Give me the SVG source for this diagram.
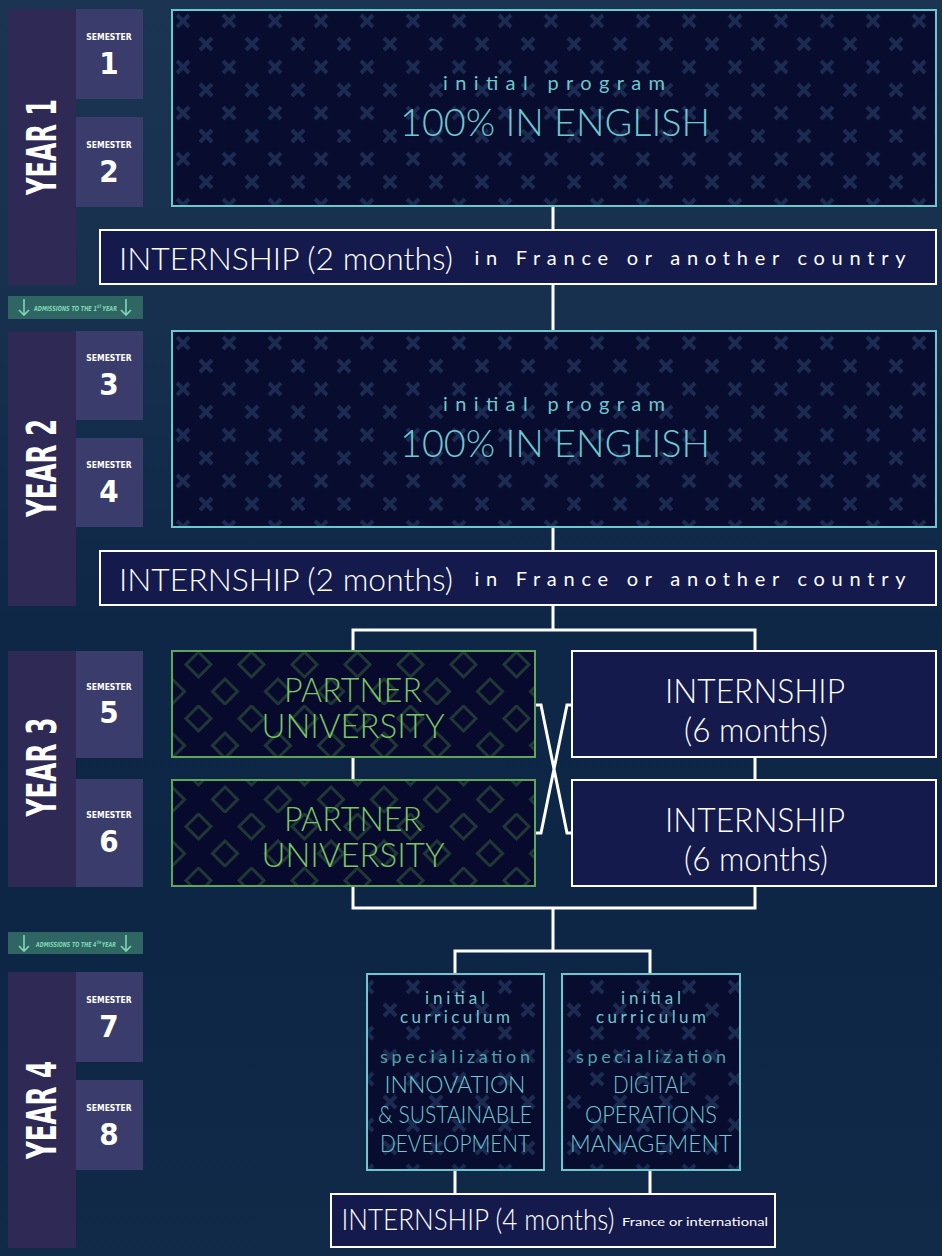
<svg xmlns="http://www.w3.org/2000/svg" width="942" height="1256" viewBox="0 0 942 1256">
<defs>
<linearGradient id="bg" x1="0" y1="0" x2="0" y2="1">
<stop offset="0" stop-color="#1a3451"/>
<stop offset="0.25" stop-color="#17304e"/>
<stop offset="0.5" stop-color="#0e2747"/>
<stop offset="0.75" stop-color="#0d2646"/>
<stop offset="1" stop-color="#112a48"/>
</linearGradient>
<pattern id="xp" x="172" y="10" width="46" height="46" patternUnits="userSpaceOnUse">
<rect width="46" height="46" fill="#080c2e"/>
<path d="M5,5 L17,17 M17,5 L5,17 M28,28 L40,40 M40,28 L28,40" stroke="#1b2b52" stroke-width="4"/>
</pattern>
<pattern id="dp" x="172" y="651" width="53" height="54" patternUnits="userSpaceOnUse">
<rect width="53" height="54" fill="#070a2c"/>
<path d="M26.5,1 L39,13.5 L26.5,26 L14,13.5 Z M0,28 L12.5,40.5 L0,53 L-12.5,40.5 Z M53,28 L65.5,40.5 L53,53 L40.5,40.5 Z" fill="none" stroke="#1f3835" stroke-width="3"/>
</pattern>
<style>
.yr{fill:#2e2a55}
.sem{fill:#3a3d6b}
.yt{font-family:"DejaVu Sans Condensed","DejaVu Sans",sans-serif;font-weight:bold;fill:#ffffff;font-size:40px;text-anchor:middle}
.sl{font-family:"DejaVu Sans Condensed","DejaVu Sans",sans-serif;font-weight:bold;fill:#ffffff;font-size:8.5px;text-anchor:middle}
.sn{font-family:"DejaVu Sans Condensed","DejaVu Sans",sans-serif;font-weight:bold;fill:#ffffff;font-size:31px;text-anchor:middle}
.adm{fill:#2f6664}
.at{font-family:"DejaVu Sans Condensed","DejaVu Sans",sans-serif;font-style:italic;font-weight:bold;fill:#7fd6b5;font-size:7px}
.arr{stroke:#7fd6b5;stroke-width:1.6;fill:none}
.big{fill:url(#xp);stroke:#6cc8cf;stroke-width:2}
.int{fill:#151a4c;stroke:#ffffff;stroke-width:2}
.par{fill:url(#dp);stroke:#5fa65a;stroke-width:2}
.f{font-family:Lato,"Liberation Sans",sans-serif;font-weight:300;text-anchor:middle}
.r{font-weight:400}
.teal{fill:#6fc7cf}
.dteal{fill:#4fa1a7}
.wh{fill:#ffffff}
.grn{fill:#7cc464}
.con{stroke:#ffffff;stroke-width:3;fill:none}
</style>
</defs>
<rect width="942" height="1256" fill="url(#bg)"/>

<g id="connectors">
<path class="con" d="M553,206 V230 M553,284 V331 M553,527 V551 M553,605 V630 M353,651 V630 H755 V651 M353,757 V780 M755,757 V780 M353,886 V908 H755 V886 M553,908 V951 M455,973 V951 H650 V973 M455,1170 V1194 M650,1170 V1194"/>
<path class="con" stroke-width="2.5" d="M535,705 H541 L567,833 H573 M535,833 H541 L567,705 H573"/>
</g>

<g id="year1">
<rect class="yr" x="8" y="9" width="68" height="276"/>
<text class="yt" transform="translate(56,147) rotate(-90)" textLength="96" lengthAdjust="spacingAndGlyphs">YEAR 1</text>
</g>
<g id="sem1"><rect class="sem" x="76" y="9" width="67" height="90"/><text class="sl" x="109" y="40">SEMESTER</text><text class="sn" x="109" y="74">1</text></g>
<g id="sem2"><rect class="sem" x="76" y="117" width="67" height="90"/><text class="sl" x="109" y="148">SEMESTER</text><text class="sn" x="109" y="182">2</text></g>

<g id="adm1">
<rect class="adm" x="8" y="296" width="135" height="23"/>
<path class="arr" d="M24,299 V315 M19,310 L24,315 L29,310 M126,299 V315 M121,310 L126,315 L131,310"/>
<text class="at" x="34" y="311" textLength="83" lengthAdjust="spacingAndGlyphs">ADMISSIONS TO THE 1<tspan font-size="4.5" dy="-3">ST</tspan><tspan dy="3" dx="1">YEAR</tspan></text>
</g>

<g id="year2">
<rect class="yr" x="8" y="331" width="68" height="275"/>
<text class="yt" transform="translate(56,468) rotate(-90)" textLength="98" lengthAdjust="spacingAndGlyphs">YEAR 2</text>
</g>
<g id="sem3"><rect class="sem" x="76" y="331" width="67" height="89"/><text class="sl" x="109" y="361">SEMESTER</text><text class="sn" x="109" y="395">3</text></g>
<g id="sem4"><rect class="sem" x="76" y="438" width="67" height="89"/><text class="sl" x="109" y="468">SEMESTER</text><text class="sn" x="109" y="502">4</text></g>

<g id="year3">
<rect class="yr" x="8" y="651" width="68" height="236"/>
<text class="yt" transform="translate(56,767) rotate(-90)" textLength="99" lengthAdjust="spacingAndGlyphs">YEAR 3</text>
</g>
<g id="sem5"><rect class="sem" x="76" y="651" width="67" height="107"/><text class="sl" x="109" y="690">SEMESTER</text><text class="sn" x="109" y="723">5</text></g>
<g id="sem6"><rect class="sem" x="76" y="779" width="67" height="108"/><text class="sl" x="109" y="818">SEMESTER</text><text class="sn" x="109" y="852">6</text></g>

<g id="adm2">
<rect class="adm" x="8" y="932" width="135" height="22"/>
<path class="arr" d="M24,935 V951 M19,946 L24,951 L29,946 M126,935 V951 M121,946 L126,951 L131,946"/>
<text class="at" x="36" y="946.5" textLength="80" lengthAdjust="spacingAndGlyphs">ADMISSIONS TO THE 4<tspan font-size="4.5" dy="-3">TH</tspan><tspan dy="3" dx="1">YEAR</tspan></text>
</g>

<g id="year4">
<rect class="yr" x="8" y="972" width="68" height="276"/>
<text class="yt" transform="translate(56,1110) rotate(-90)" textLength="98" lengthAdjust="spacingAndGlyphs">YEAR 4</text>
</g>
<g id="sem7"><rect class="sem" x="76" y="972" width="67" height="90"/><text class="sl" x="109" y="1003">SEMESTER</text><text class="sn" x="109" y="1037">7</text></g>
<g id="sem8"><rect class="sem" x="76" y="1080" width="67" height="90"/><text class="sl" x="109" y="1111">SEMESTER</text><text class="sn" x="109" y="1145">8</text></g>

<g id="prog1">
<rect class="big" x="172" y="10" width="764" height="196"/>
<text class="f r teal" x="554" y="90" font-size="20" textLength="222" lengthAdjust="spacing">initial program</text>
<text class="f teal" x="555" y="136" font-size="37" textLength="310" lengthAdjust="spacingAndGlyphs">100% IN ENGLISH</text>
</g>
<g id="intern1">
<rect class="int" x="100" y="230" width="836" height="54"/>
<text class="f wh" x="286" y="270" font-size="31" textLength="334" lengthAdjust="spacingAndGlyphs">INTERNSHIP (2 months)</text>
<text class="f r wh" x="690" y="265" font-size="20" textLength="431" lengthAdjust="spacing">in France or another country</text>
</g>

<g id="prog2">
<rect class="big" x="172" y="331" width="764" height="196"/>
<text class="f r teal" x="554" y="411" font-size="20" textLength="222" lengthAdjust="spacing">initial program</text>
<text class="f teal" x="555" y="457" font-size="37" textLength="310" lengthAdjust="spacingAndGlyphs">100% IN ENGLISH</text>
</g>
<g id="intern2">
<rect class="int" x="100" y="551" width="836" height="54"/>
<text class="f wh" x="286" y="591" font-size="31" textLength="334" lengthAdjust="spacingAndGlyphs">INTERNSHIP (2 months)</text>
<text class="f r wh" x="690" y="586" font-size="20" textLength="431" lengthAdjust="spacing">in France or another country</text>
</g>

<g id="partner1">
<rect class="par" x="172" y="651" width="363" height="106"/>
<text class="f grn" x="353" y="702" font-size="34" textLength="138" lengthAdjust="spacingAndGlyphs">PARTNER</text>
<text class="f grn" x="353" y="738" font-size="34" textLength="183" lengthAdjust="spacingAndGlyphs">UNIVERSITY</text>
</g>
<g id="partner2">
<rect class="par" x="172" y="780" width="363" height="106"/>
<text class="f grn" x="353" y="831" font-size="34" textLength="138" lengthAdjust="spacingAndGlyphs">PARTNER</text>
<text class="f grn" x="353" y="867" font-size="34" textLength="183" lengthAdjust="spacingAndGlyphs">UNIVERSITY</text>
</g>
<g id="intern6a">
<rect class="int" x="572" y="651" width="364" height="106"/>
<text class="f wh" x="755" y="703" font-size="33" textLength="180" lengthAdjust="spacingAndGlyphs">INTERNSHIP</text>
<text class="f wh" x="756" y="742" font-size="33" textLength="144" lengthAdjust="spacingAndGlyphs">(6 months)</text>
</g>
<g id="intern6b">
<rect class="int" x="572" y="780" width="364" height="106"/>
<text class="f wh" x="755" y="832" font-size="33" textLength="180" lengthAdjust="spacingAndGlyphs">INTERNSHIP</text>
<text class="f wh" x="756" y="871" font-size="33" textLength="144" lengthAdjust="spacingAndGlyphs">(6 months)</text>
</g>

<g id="spec1">
<rect class="big" x="367" y="974" width="177" height="196"/>
<text class="f r teal" x="455" y="1004" font-size="17" textLength="60" lengthAdjust="spacing">initial</text>
<text class="f r teal" x="455" y="1023" font-size="17" textLength="110" lengthAdjust="spacing">curriculum</text>
<text class="f r dteal" x="455" y="1063" font-size="18" textLength="150" lengthAdjust="spacing">specialization</text>
<text class="f teal" x="455" y="1093" font-size="24" textLength="141" lengthAdjust="spacingAndGlyphs">INNOVATION</text>
<text class="f teal" x="455" y="1123" font-size="24" textLength="154" lengthAdjust="spacingAndGlyphs">&amp; SUSTAINABLE</text>
<text class="f teal" x="455" y="1152" font-size="24" textLength="150" lengthAdjust="spacingAndGlyphs">DEVELOPMENT</text>
</g>
<g id="spec2">
<rect class="big" x="562" y="974" width="178" height="196"/>
<text class="f r teal" x="651" y="1004" font-size="17" textLength="60" lengthAdjust="spacing">initial</text>
<text class="f r teal" x="651" y="1023" font-size="17" textLength="110" lengthAdjust="spacing">curriculum</text>
<text class="f r dteal" x="651" y="1063" font-size="18" textLength="150" lengthAdjust="spacing">specialization</text>
<text class="f teal" x="651" y="1093" font-size="24" textLength="76" lengthAdjust="spacingAndGlyphs">DIGITAL</text>
<text class="f teal" x="651" y="1123" font-size="24" textLength="132" lengthAdjust="spacingAndGlyphs">OPERATIONS</text>
<text class="f teal" x="651" y="1152" font-size="24" textLength="162" lengthAdjust="spacingAndGlyphs">MANAGEMENT</text>
</g>
<g id="intern4">
<rect class="int" x="331" y="1194" width="444" height="53"/>
<text class="f wh" x="478" y="1230" font-size="30" textLength="273" lengthAdjust="spacingAndGlyphs">INTERNSHIP (4 months)</text>
<text class="f r wh" x="695" y="1226" font-size="12" textLength="146" lengthAdjust="spacingAndGlyphs">France or international</text>
</g>
</svg>
